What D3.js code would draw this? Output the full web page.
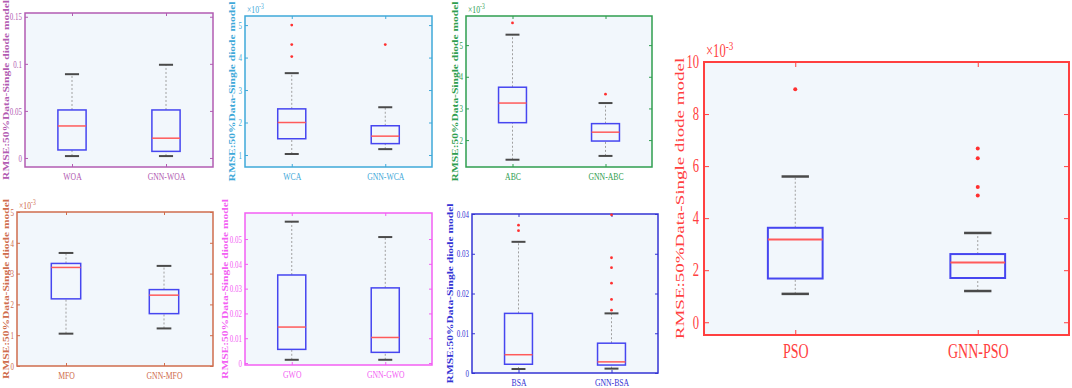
<!DOCTYPE html>
<html>
<head>
<meta charset="utf-8">
<script src="https://cdn.jsdelivr.net/npm/d3@7"></script>
<style>
  body { margin: 0; background: #fff; }
  text { font-family: "Liberation Serif", "Times New Roman", serif; }
</style>
</head>
<body>
<svg id="chart" width="1072" height="388"></svg>
<script>
// Data. Values of panels with exponent -3 are in units of 1e-3.
const methods = ['WOA', 'WCA', 'ABC', 'MFO', 'GWO', 'BSA', 'PSO'];
const categories = methods.map(m => [m, 'GNN-' + m]);
const yLabel = 'RMSE:50%Data-Single diode model';
const exponents = [0, -3, -3, -3, 0, 0, -3];

// [lower whisker, q1, median, q3, upper whisker]
const statsBase = [
  [0.002, 0.0085, 0.034, 0.051, 0.089],
  [1.03, 1.5, 2.0, 2.42, 3.52],
  [1.38, 2.55, 3.17, 3.67, 5.33],
  [1.05, 2.18, 3.2, 3.33, 3.67],
  [0.0013, 0.0055, 0.0145, 0.0355, 0.057],
  [0.001, 0.0022, 0.0046, 0.015, 0.033],
  [1.09, 1.68, 3.18, 3.63, 5.6]
];
const statsGnn = [
  [0.002, 0.007, 0.021, 0.051, 0.099],
  [1.18, 1.35, 1.58, 1.9, 2.47],
  [1.5, 1.97, 2.25, 2.52, 3.17],
  [1.22, 1.7, 2.3, 2.48, 3.25],
  [0.0013, 0.0043, 0.0103, 0.0303, 0.0508],
  [0.0011, 0.002, 0.0028, 0.0075, 0.015],
  [1.2, 1.7, 2.3, 2.62, 3.43]
];
const outliersBase = [[], [4.03, 4.4, 5.0], [5.7], [], [], [0.0358, 0.0372], [8.95]];
const outliersGnn = [[], [4.4], [3.45], [], [], [0.0158, 0.0185, 0.0226, 0.0265, 0.029, 0.0398], [4.87, 5.2, 6.3, 6.68]];

const yDomains = [[-0.0096, 0.154], [0.63, 5.28], [1.15, 5.92], [0, 5], [-0.0008, 0.0605], [0, 0.04], [-0.49, 10]];
const yTicks = [
  [0, 0.05, 0.1, 0.15],
  [1, 2, 3, 4, 5],
  [2, 3, 4, 5],
  [0, 1, 2, 3, 4, 5],
  [0, 0.01, 0.02, 0.03, 0.04, 0.05],
  [0, 0.01, 0.02, 0.03, 0.04],
  [0, 2, 4, 6, 8, 10]
];

// Layout of each panel (pixels) and its colour
const layout = [
  { x0: 25, x1: 213, y0: 13, y1: 167, labelX: 6, color: '#b25cb2', big: false },
  { x0: 245, x1: 432, y0: 16, y1: 167, labelX: 232, color: '#3fa9d9', big: false },
  { x0: 466, x1: 652, y0: 16, y1: 167, labelX: 455, color: '#2f9e4f', big: false },
  { x0: 17, x1: 213, y0: 212, y1: 366, labelX: 6, color: '#cf6d4d', big: false },
  { x0: 245, x1: 432, y0: 213, y1: 365, labelX: 225, color: '#f35ff3', big: false },
  { x0: 472, x1: 658, y0: 214, y1: 373, labelX: 450, color: '#3434d4', big: false },
  { x0: 704, x1: 1069, y0: 62, y1: 335, labelX: 679, color: '#ff4040', big: true }
];

const SQ = 0.7; // the figure's text is horizontally condensed
const svg = d3.select('#chart');

function squish(sel) {
  sel.each(function() {
    const t = d3.select(this);
    const ax = +t.attr('x') || 0;
    t.attr('transform', `translate(${ax},0) scale(${SQ},1) translate(${-ax},0)`);
  });
}

function drawPanel(i) {
  const L = layout[i];
  const g = svg.append('g');

  const x = d3.scaleLinear().domain([0.5, 2.5]).range([L.x0, L.x1]);
  const y = d3.scaleLinear().domain(yDomains[i]).range([L.y1, L.y0]);

  g.append('rect')
    .attr('x', L.x0).attr('y', L.y0)
    .attr('width', L.x1 - L.x0).attr('height', L.y1 - L.y0)
    .attr('fill', '#f2f7fc');

  const tick = L.big ? 5 : 3;
  const axes = [
    d3.axisLeft(y).tickValues(yTicks[i]).tickSize(-tick).tickPadding(L.big ? 5 : 3).tickFormat(d => String(d)),
    d3.axisRight(y).tickValues(yTicks[i]).tickSize(-tick).tickFormat(''),
    d3.axisBottom(x).tickValues([1, 2]).tickSize(-tick).tickPadding(L.big ? 9 : 5).tickFormat(d => categories[i][d - 1]),
    d3.axisTop(x).tickValues([1, 2]).tickSize(-tick).tickFormat('')
  ];
  const pos = [`translate(${L.x0},0)`, `translate(${L.x1},0)`, `translate(0,${L.y1})`, `translate(0,${L.y0})`];
  const sizes = L.big ? [18, 18, 20, 18] : [10, 10, 11, 10];
  axes.forEach((ax, k) => {
    const a = g.append('g').attr('transform', pos[k]).call(ax);
    a.select('.domain').remove();
    a.selectAll('line').attr('stroke', L.color).attr('stroke-width', 1);
    a.selectAll('text').attr('fill', L.color).style('font-size', sizes[k] + 'px').call(squish);
  });

  g.append('rect')
    .attr('x', L.x0).attr('y', L.y0)
    .attr('width', L.x1 - L.x0).attr('height', L.y1 - L.y0)
    .attr('fill', 'none').attr('stroke', L.color).attr('stroke-width', L.big ? 2 : 1.5);

  // y axis title
  g.append('text')
    .attr('transform', `translate(${L.labelX},${(L.y0 + L.y1) / 2}) scale(${SQ},1) rotate(-90)`)
    .attr('text-anchor', 'middle')
    .attr('dy', '0.35em')
    .attr('fill', L.color)
    .style('font-size', (L.big ? 19 : 11.5) + 'px')
    .style('font-weight', L.big ? 'normal' : 'bold')
    .text(yLabel);

  if (exponents[i] !== 0) {
    const t = g.append('text')
      .attr('x', L.x0 + 2).attr('y', L.y0 - (L.big ? 5 : 3))
      .attr('fill', L.color)
      .style('font-size', (L.big ? 18 : 11) + 'px')
      .text('\u00d710');
    t.append('tspan').attr('dy', L.big ? -7 : -4).style('font-size', (L.big ? 13 : 8) + 'px').text(exponents[i]);
    squish(t);
  }

  const boxW = (L.x1 - L.x0) * 0.15;
  const capW = boxW * 0.5;
  [[statsBase[i], outliersBase[i]], [statsGnn[i], outliersGnn[i]]].forEach(([s, outs], j) => {
    const cx = x(j + 1);
    const [lo, q1, med, q3, hi] = s;
    // whiskers
    g.append('line').attr('x1', cx).attr('x2', cx).attr('y1', y(lo)).attr('y2', y(q1))
      .attr('stroke', '#a0a0a0').attr('stroke-width', 1).attr('stroke-dasharray', '2,2');
    g.append('line').attr('x1', cx).attr('x2', cx).attr('y1', y(q3)).attr('y2', y(hi))
      .attr('stroke', '#a0a0a0').attr('stroke-width', 1).attr('stroke-dasharray', '2,2');
    // caps
    [lo, hi].forEach(v => {
      g.append('line').attr('x1', cx - capW / 2).attr('x2', cx + capW / 2)
        .attr('y1', y(v)).attr('y2', y(v))
        .attr('stroke', '#4a4a4a').attr('stroke-width', L.big ? 2.5 : 2);
    });
    // box
    g.append('rect').attr('x', cx - boxW / 2).attr('y', y(q3))
      .attr('width', boxW).attr('height', y(q1) - y(q3))
      .attr('fill', 'none').attr('stroke', '#4646f0').attr('stroke-width', L.big ? 2 : 1.5);
    g.append('line').attr('x1', cx - boxW / 2).attr('x2', cx + boxW / 2)
      .attr('y1', y(med)).attr('y2', y(med))
      .attr('stroke', '#ff5a5a').attr('stroke-width', L.big ? 2 : 1.5);
    g.selectAll(null).data(outs).enter().append('circle')
      .attr('cx', cx).attr('cy', d => y(d)).attr('r', L.big ? 2 : 1.4)
      .attr('fill', '#ff3030');
  });
}

methods.forEach((m, i) => drawPanel(i));
</script>
</body>
</html>
